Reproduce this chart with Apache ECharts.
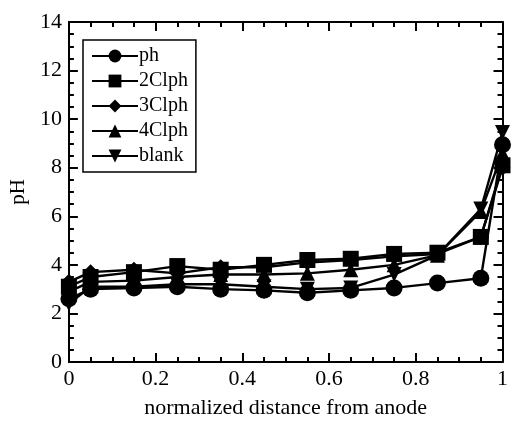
<!DOCTYPE html>
<html>
<head>
<meta charset="utf-8">
<script src="https://cdn.jsdelivr.net/npm/echarts@6/dist/echarts.min.js"></script>
<style>html,body{margin:0;padding:0;background:#fff}#c{width:511px;height:424px}</style>
</head>
<body>
<div id="c"></div>
<script>
const xValues = [0, 0.05, 0.15, 0.25, 0.35, 0.45, 0.55, 0.65, 0.75, 0.85, 0.95, 1.0];
const seriesNames = ['ph', '2Clph', '3Clph', '4Clph', 'blank'];
const ph    = [2.6, 3.0, 3.05, 3.1, 3.0, 2.95, 2.85, 2.95, 3.05, 3.25, 3.45, 8.95];
const cl2   = [3.1, 3.5, 3.7, 3.95, 3.8, 4.0, 4.2, 4.25, 4.45, 4.5, 5.15, 8.1];
const cl3   = [3.3, 3.7, 3.8, 3.65, 3.9, 3.9, 4.1, 4.2, 4.35, 4.45, 5.15, 8.0];
const cl4   = [2.9, 3.3, 3.35, 3.5, 3.6, 3.6, 3.65, 3.8, 4.0, 4.4, 6.2, 8.6];
const blank = [2.4, 3.1, 3.1, 3.2, 3.2, 3.1, 3.0, 3.05, 3.6, 4.4, 6.3, 9.45];
const xTickLabels = ['0', '0.2', '0.4', '0.6', '0.8', '1'];
const yTickLabels = ['0', '2', '4', '6', '8', '10', '12', '14'];

const values = [ph, cl2, cl3, cl4, blank];
const symbols = ['circle', 'rect', 'diamond', 'triangle', 'path://M0,0 L10,0 L5,9 Z'];
const sizes = [17, 16, 16, 15, 15];
const font = 'Liberation Serif';

const chart = echarts.init(document.getElementById('c'), null, {renderer: 'canvas'});
function axisCommon() {
  return {
    axisLine: {show: true, onZero: false, lineStyle: {color: '#000', width: 2}},
    axisTick: {show: true, inside: true, length: 9, lineStyle: {color: '#000', width: 2}},
    minorTick: {show: true, splitNumber: 4, length: 5, lineStyle: {color: '#000', width: 2}},
    splitLine: {show: false}
  };
}
const series = seriesNames.map((n, i) => ({
  name: n,
  type: 'line',
  data: xValues.map((x, j) => [x, values[i][j]]),
  symbol: symbols[i],
  symbolSize: sizes[i],
  clip: false,
  itemStyle: {color: '#000'},
  lineStyle: {color: '#000', width: 2.4},
  emphasis: {disabled: true},
  animation: false
}));
chart.setOption({
  animation: false,
  grid: {left: 56, right: 6, top: 22, bottom: 60},
  legend: {
    orient: 'vertical', left: 83, top: 40,
    data: seriesNames,
    itemWidth: 46, itemHeight: 16, itemGap: 5,
    padding: [6, 8, 6, 8],
    borderColor: '#000', borderWidth: 1.5,
    textStyle: {fontFamily: font, fontSize: 20, lineHeight: 20, color: '#000', padding: [0, 0, 0, -4]},
    backgroundColor: '#fff'
  },
  xAxis: [
    Object.assign(axisCommon(), {
      type: 'value', min: 0, max: 1, interval: 0.2, position: 'bottom',
      name: 'normalized distance from anode', nameLocation: 'middle', nameGap: 35,
      nameTextStyle: {fontFamily: font, fontSize: 22, color: '#000'},
      axisLabel: {fontFamily: font, fontSize: 22, color: '#000', margin: 6,
        formatter: v => xTickLabels[Math.round(v / 0.2)]}
    }),
    Object.assign(axisCommon(), {
      type: 'value', min: 0, max: 1, interval: 0.2, position: 'top',
      axisLabel: {show: false}
    })
  ],
  yAxis: [
    Object.assign(axisCommon(), {
      type: 'value', min: 0, max: 14, interval: 2, position: 'left',
      name: 'pH', nameLocation: 'middle', nameGap: 27, nameRotate: 90,
      nameTextStyle: {fontFamily: font, fontSize: 21, color: '#000'},
      axisLabel: {fontFamily: font, fontSize: 22, color: '#000', margin: 7,
        formatter: v => yTickLabels[Math.round(v / 2)]}
    }),
    Object.assign(axisCommon(), {
      type: 'value', min: 0, max: 14, interval: 2, position: 'right',
      axisLabel: {show: false}
    })
  ],
  series: series
});
</script>
</body>
</html>
